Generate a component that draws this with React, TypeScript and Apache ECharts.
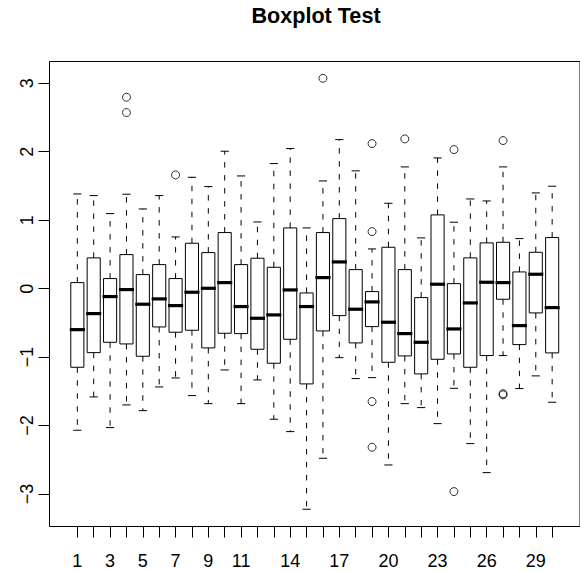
import React, { useEffect, useRef } from 'react';
import * as echarts from 'echarts';

const groups = [1, 2, 3, 4, 5, 6, 7, 8, 9, 10, 11, 12, 13, 14, 15, 16, 17, 18, 19, 20, 21, 22, 23, 24, 25, 26, 27, 28, 29, 30];
const lowerWhisker = [-2.069, -1.582, -2.03, -1.699, -1.782, -1.436, -1.305, -1.563, -1.68, -1.188, -1.68, -1.334, -1.908, -2.089, -3.223, -2.478, -1.008, -1.314, -1.3, -2.576, -1.68, -1.738, -1.972, -1.456, -2.264, -2.688, -0.978, -1.46, -1.275, -1.66];
const q1 = [-1.149, -0.935, -0.784, -0.808, -0.988, -0.56, -0.637, -0.608, -0.866, -0.652, -0.657, -0.886, -1.09, -0.74, -1.392, -0.618, -0.394, -0.793, -0.555, -1.076, -0.983, -1.246, -1.032, -0.954, -1.149, -0.978, -0.155, -0.818, -0.355, -0.939];
const median = [-0.599, -0.365, -0.116, -0.014, -0.228, -0.15, -0.248, -0.053, 0.005, 0.088, -0.262, -0.433, -0.384, -0.019, -0.262, 0.161, 0.39, -0.301, -0.194, -0.491, -0.657, -0.784, 0.064, -0.589, -0.209, 0.093, 0.088, -0.54, 0.21, -0.277];
const q3 = [0.088, 0.449, 0.147, 0.497, 0.205, 0.351, 0.147, 0.663, 0.526, 0.819, 0.351, 0.444, 0.312, 0.887, -0.063, 0.819, 1.023, 0.278, -0.043, 0.604, 0.278, -0.131, 1.077, 0.073, 0.449, 0.668, 0.677, 0.244, 0.531, 0.746];
const upperWhisker = [1.383, 1.359, 1.096, 1.379, 1.164, 1.359, 0.755, 1.627, 1.491, 2.007, 1.646, 0.974, 1.827, 2.046, 0.887, 1.573, 2.177, 1.72, 0.58, 1.247, 1.778, 0.741, 1.909, 0.97, 1.31, 1.281, 1.778, 0.731, 1.398, 1.496];
const outlierGroup = [4, 4, 7, 16, 19, 19, 19, 19, 21, 24, 24, 27, 27, 27];
const outlierValue = [2.796, 2.572, 1.661, 3.073, 2.119, 0.833, -1.65, -2.317, 2.187, 2.031, -2.965, 2.163, -1.535, -1.552];
const xTickLabels = [1, 3, 5, 7, 9, 11, 14, 17, 20, 23, 26, 29];
const yTicks = [-3, -2, -1, 0, 1, 2, 3];

const FONT = '"Liberation Sans", Arial, Helvetica, sans-serif';

export default function App() {
  const ref = useRef<HTMLDivElement>(null);
  useEffect(() => {
    if (!ref.current) return;
    const chart = echarts.init(ref.current, null, { renderer: 'svg' });
    const boxData = groups.map((g, i) => [g, lowerWhisker[i], q1[i], median[i], q3[i], upperWhisker[i]]);
    const outData = outlierGroup.map((g, i) => [g, outlierValue[i]]);
    const option: any = {
      animation: false,
      backgroundColor: '#fff',
      title: {
        text: 'Boxplot Test',
        left: 316,
        top: 4,
        textAlign: 'center',
        padding: 0,
        textStyle: { fontSize: 21.6, fontWeight: 'bold', fontFamily: FONT, color: '#000' },
      },
      grid: {
        left: 49.5,
        top: 61.5,
        width: 533.6,
        height: 465,
        show: true,
        borderColor: '#000',
        borderWidth: 1,
        backgroundColor: 'transparent',
      },
      xAxis: {
        type: 'value',
        position: 'bottom',
        min: -0.7,
        max: 31.7,
        axisLine: { show: false, onZero: false },
        splitLine: { show: false },
        axisTick: { show: true, customValues: groups, length: 11, lineStyle: { color: '#000', width: 1 } },
        axisLabel: { customValues: xTickLabels, fontSize: 18, color: '#000', fontFamily: FONT, margin: 25 },
      },
      yAxis: {
        type: 'value',
        position: 'left',
        min: -3.475,
        max: 3.318,
        axisLine: { show: false, onZero: false },
        splitLine: { show: false },
        axisTick: { show: true, customValues: yTicks, length: 11, lineStyle: { color: '#000', width: 1 } },
        axisLabel: {
          customValues: yTicks,
          rotate: 90,
          margin: 14,
          fontSize: 18,
          color: '#000',
          fontFamily: FONT,
          formatter: (v: number) => String(v).replace('-', '\u2212'),
        },
      },
      series: [
        {
          type: 'custom',
          data: boxData,
          encode: { x: 0, y: [1, 2, 3, 4, 5] },
          renderItem: (params: any, api: any) => {
            const x = api.value(0);
            const lo = api.coord([x, api.value(1)]);
            const b1 = api.coord([x, api.value(2)]);
            const md = api.coord([x, api.value(3)]);
            const b3 = api.coord([x, api.value(4)]);
            const hi = api.coord([x, api.value(5)]);
            const unit = api.size([1, 0])[0];
            const half = unit * 0.4;
            const staple = unit * 0.25;
            const cx = lo[0];
            const stroke = { stroke: '#000', lineWidth: 1, fill: 'none' };
            const dash = { ...stroke, lineDash: [5.5, 7.5] };
            return {
              type: 'group',
              children: [
                { type: 'line', shape: { x1: cx, y1: b3[1], x2: cx, y2: hi[1] }, style: dash },
                { type: 'line', shape: { x1: cx, y1: b1[1], x2: cx, y2: lo[1] }, style: dash },
                { type: 'line', shape: { x1: cx - staple, y1: hi[1], x2: cx + staple, y2: hi[1] }, style: stroke },
                { type: 'line', shape: { x1: cx - staple, y1: lo[1], x2: cx + staple, y2: lo[1] }, style: stroke },
                { type: 'rect', shape: { x: cx - half, y: b3[1], width: 2 * half, height: b1[1] - b3[1] }, style: stroke },
                { type: 'line', shape: { x1: cx - half - 1, y1: md[1], x2: cx + half + 1, y2: md[1] }, style: { stroke: '#000', lineWidth: 3.2 } },
              ],
            };
          },
        },
        {
          type: 'scatter',
          data: outData,
          symbol: 'circle',
          symbolSize: 8,
          itemStyle: { color: 'transparent', borderColor: '#000', borderWidth: 1 },
        },
      ],
    };
    chart.setOption(option);
    return () => chart.dispose();
  }, []);
  return <div ref={ref} style={{ position: 'absolute', left: 0, top: 0, width: 580, height: 571 }} />;
}
